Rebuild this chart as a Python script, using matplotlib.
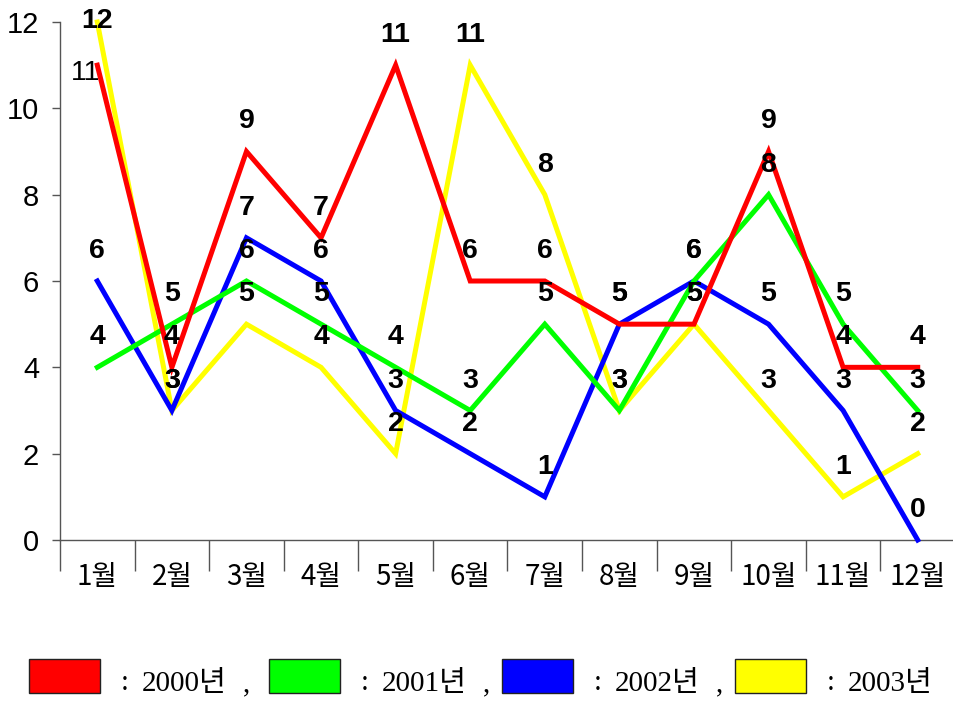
import matplotlib
matplotlib.use("Agg")
import matplotlib.pyplot as plt
from matplotlib.patches import Rectangle
from matplotlib.ticker import FixedLocator

months = ["1월", "2월", "3월", "4월", "5월", "6월", "7월", "8월", "9월", "10월", "11월", "12월"]
years = ["2000", "2001", "2002", "2003"]
colors = ["#FF0000", "#00FF00", "#0000FF", "#FFFF00"]

s2000 = [11, 4, 9, 7, 11, 6, 6, 5, 5, 9, 4, 4]
s2001 = [4, 5, 6, 5, 4, 3, 5, 3, 6, 8, 5, 3]
s2002 = [6, 3, 7, 6, 3, 2, 1, 5, 6, 5, 3, 0]
s2003 = [12, 3, 5, 4, 2, 11, 8, 3, 5, 3, 1, 2]
series = [s2000, s2001, s2002, s2003]

yticks = [0, 2, 4, 6, 8, 10, 12]

W, H, DPI = 954, 708, 100
fig = plt.figure(figsize=(W / DPI, H / DPI), dpi=DPI)
ax = fig.add_axes([60 / W, 1 - 540 / H, 895 / W, (540 - 22) / H])

x = list(range(1, len(months) + 1))
# draw from the back (2003) to the front (2000)
zorders = [5, 4, 3, 2]
for vals, col, z in zip(series, colors, zorders):
    ax.plot(x, vals, color=col, lw=3.6, zorder=z, solid_joinstyle="miter",
            clip_on=False)

ax.set_xlim(0.5, 12.5)
ax.set_ylim(0, 12)

# value labels above each point
label_font = ["Liberation Sans", "DejaVu Sans"]
for si, (vals, col) in enumerate(zip(series, colors)):
    for i, v in enumerate(vals):
        dx, dy, weight = 0, 21.6, "bold"
        if si == 0 and i == 0:
            dx, dy, weight = -8.6, -5.8, "normal"
        elif v >= 11.5:
            dy = 0.5
        ax.annotate(str(v), (x[i], v), xytext=(dx, dy), textcoords="offset points",
                    ha="center", va="center", fontsize=20.5, fontweight=weight,
                    family=label_font, color="black", zorder=10,
                    annotation_clip=False)

# axes styling
for side in ["top", "right"]:
    ax.spines[side].set_visible(False)
for side in ["left", "bottom"]:
    ax.spines[side].set_color("#555555")
    ax.spines[side].set_linewidth(1.0)

ax.set_yticks(yticks)
ax.set_yticklabels([str(t) for t in yticks], family=["Liberation Sans"], fontsize=21)
ax.tick_params(axis="y", direction="out", length=6, width=1, color="#555555", pad=9)

ax.set_xticks(x)
ax.set_xticklabels(months, family=["Noto Sans CJK KR"], fontsize=20, fontweight="medium")
ax.tick_params(axis="x", which="major", length=0, pad=16)
ax.xaxis.set_minor_locator(FixedLocator([i + 0.5 for i in range(0, 12)]))
ax.tick_params(axis="x", which="minor", direction="out", length=22, width=1,
               color="#555555")

# legend row of colored boxes with year captions
legend_font = ["Liberation Serif", "Noto Sans CJK KR"]
box_left = [29, 269, 502, 735]
box_w, box_top, box_h = 71, 659, 34
for k, (yr, col) in enumerate(zip(years, colors)):
    bx = box_left[k]
    fig.patches.append(Rectangle((bx / W, 1 - (box_top + box_h) / H), box_w / W, box_h / H,
                                 transform=fig.transFigure, facecolor=col,
                                 edgecolor="#222222", lw=1.0))
    base = 1 - (box_top + box_h - 2) / H
    fig.text((bx + box_w + 25) / W, base + 1 / H, ":", fontsize=21,
             family=legend_font, ha="center", va="baseline")
    fig.text((bx + box_w + 42) / W, base, f"{yr}년", fontsize=21, family=legend_font,
             ha="left", va="baseline")
    if k < len(years) - 1:
        fig.text((bx + box_w + 147) / W, base, ",", fontsize=21,
                 family=legend_font, ha="center", va="baseline")

fig.savefig("out.png", dpi=DPI, facecolor="white")
